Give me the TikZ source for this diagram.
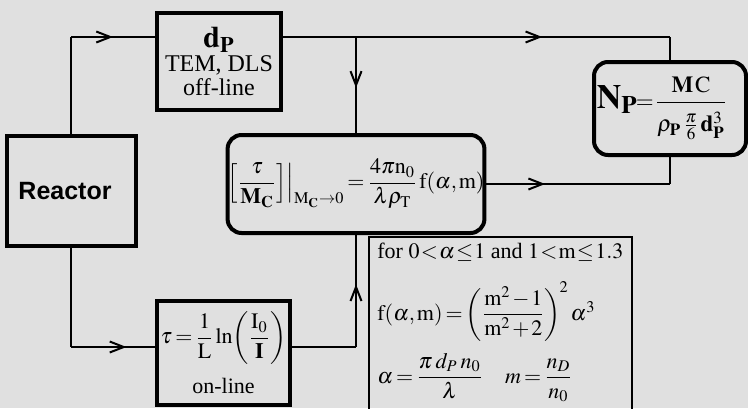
\documentclass[tikz,border=0pt]{standalone}
\usepackage{amsmath}
\usepackage{mathptmx}
\usepackage[no-math]{fontspec}
\setmainfont{Liberation Serif}
\newfontfamily\reactorfont{Liberation Sans}
\usepackage{xcolor}
\usetikzlibrary{arrows.meta,calc,decorations.markings,positioning}
\definecolor{bg}{HTML}{E0E0E0}
\newcommand{\tightmath}{\thickmuskip=2.5mu\medmuskip=1.5mu\thinmuskip=1.5mu}

\begin{document}
\begin{tikzpicture}[x=0.5pt,y=-0.5pt,
  box/.style={draw,line width=2pt,inner sep=0pt,align=center,font=\fontsize{12}{12}\selectfont},
  rbox/.style={box,rounded corners=7pt},
  conn/.style={line width=1pt},
  midarr/.style={postaction={decorate},decoration={markings,
    mark=at position #1 with {\arrow{Straight Barb[length=7pt,width=5.5pt]}}}}]
  \fill[bg] (0,0) rectangle (748,408);
  \useasboundingbox (0,0) rectangle (748,408);
  % boxes
  \node[box,minimum width=64.5pt,minimum height=55pt,font=\reactorfont\bfseries\fontsize{12.5}{15}\selectfont] (reactor) at (71,191) {Reactor\hspace*{6pt}};
  \node[box,minimum width=62pt,minimum height=48.5pt] (dP) at (219,61.5)
    {{\fontsize{15}{15}\selectfont$\mathbf{d_P}$}\\TEM, DLS\\off-line};
  \node[rbox,minimum width=126pt,minimum height=49pt,font=\fontsize{11}{13}\selectfont\tightmath] (mid) at (356,184)
    {$\boldsymbol{\Big[}\dfrac{\tau}{\mathbf{M}_{\mathbf{C}}}\boldsymbol{\Big]}\Big|_{\mathrm{M}_{\mathbf{C}}\to 0}
      =\dfrac{4\pi \mathrm{n}_0}{\lambda\rho_{\mathrm{T}}}\,\mathrm{f}(\alpha,\mathrm{m})$};
  \node[rbox,minimum width=76pt,minimum height=46.5pt,font=\fontsize{11.5}{13}\selectfont\tightmath] (np) at (670,108.5)
    {{\fontsize{17}{17}\selectfont$\mathbf{N_P}$}$\!=\!\dfrac{\mathbf{M}\,\mathrm{C}\rule[-3pt]{0pt}{0pt}}{\rho_{\mathbf{P}}\,\tfrac{\pi}{6}\,\mathbf{d}_{\mathbf{P}}^{3}\rule{0pt}{13pt}}$\hspace*{8pt}};
  \node[box,minimum width=66.5pt,minimum height=52pt,font=\fontsize{11}{12}\selectfont\tightmath] (tau) at (223.5,353)
    {$\tau=\dfrac{1}{\mathrm{L}}\ln\!\left(\dfrac{\mathrm{I}_0}{\mathbf{I}}\right)$\\[6pt]on-line};
  \node[anchor=north west,align=left,inner xsep=4pt,inner ysep=3pt,font=\fontsize{11}{12}\selectfont\tightmath] (info) at (369,237)
    {for $\thickmuskip=1mu 0<\alpha\leq 1$ and $\thickmuskip=1mu 1<\mathrm{m}\leq 1.3$\\[9pt]
     $\mathrm{f}(\alpha,\mathrm{m})=\left(\dfrac{\mathrm{m}^2-1}{\mathrm{m}^2+2}\right)^{\!2}\alpha^3$\\[5pt]
     $\alpha=\dfrac{\pi\;\boldsymbol{d_P}\;n_0}{\lambda}\quad m=\dfrac{n_D}{n_0}$};
  \draw[line width=1pt] (info.north west) rectangle (632,420);
  % connectors
  \coordinate (tl) at (reactor.north |- 0,37);
  \coordinate (bl) at (reactor.south |- 0,347);
  \draw[conn] (reactor.north) -- (tl);
  \draw[conn,midarr=0.5] (tl) -- (tl -| dP.west);
  \draw[conn,midarr=0.67] (tl -| dP.east) -- (tl -| np.north);
  \draw[conn] (tl -| np.north) -- (np.north);
  \draw[conn,midarr=0.53] (tl -| mid.north) -- (mid.north);
  \draw[conn,midarr=0.32] (mid.east) -- (mid.east -| np.south);
  \draw[conn] (mid.east -| np.south) -- (np.south);
  \draw[conn] (reactor.south) -- (bl);
  \draw[conn,midarr=0.66] (bl) -- (bl -| tau.west);
  \draw[conn] (bl -| tau.east) -- (bl -| mid.south);
  \draw[conn,midarr=0.56] (bl -| mid.south) -- (mid.south);
\end{tikzpicture}
\end{document}
